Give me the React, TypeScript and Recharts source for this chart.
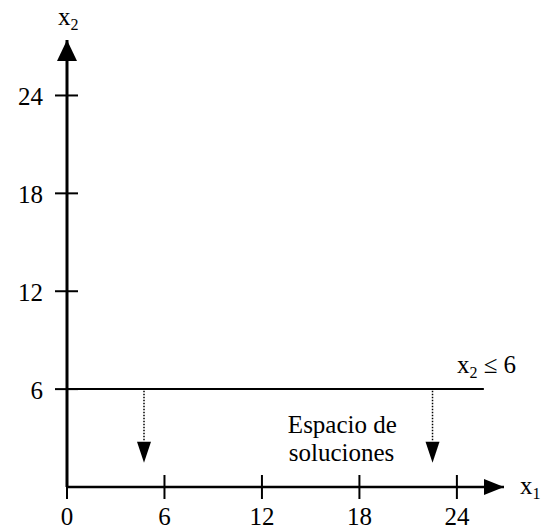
import {
  ComposedChart,
  XAxis,
  YAxis,
  Scatter,
  ReferenceLine,
  ReferenceDot,
} from "recharts";

// values
const xTicks = [0, 6, 12, 18, 24];
const yTicks = [6, 12, 18, 24];
const xMax = 26.9;
const yMax = 27.4;
const constraintValue = 6;
const constraintEnd = 25.66;
const arrowXs = [4.74, 22.5];
const arrowTipY = 1.48;
const arrowBaseY = 2.78;

const FONT = "Liberation Serif, Times New Roman, serif";
const INK = "#000";
const txt = { fontFamily: FONT, fontSize: 25 };

function XTick({ x, y, payload }: any) {
  return (
    <g>
      <line x1={x} x2={x} y1={y - 12} y2={y + 12} stroke={INK} strokeWidth={2} />
      <text x={x} y={y + 38} textAnchor="middle" style={txt} fill={INK}>
        {payload.value}
      </text>
    </g>
  );
}

function YTick({ x, y, payload }: any) {
  return (
    <g>
      <line x1={x - 12} x2={x + 11} y1={y} y2={y} stroke={INK} strokeWidth={2} />
      <text x={x - 24} y={y + 10} textAnchor="end" style={txt} fill={INK}>
        {payload.value}
      </text>
    </g>
  );
}

const rightHead = ({ cx, cy }: any) => (
  <polygon points={`${cx},${cy} ${cx - 20},${cy - 8} ${cx - 20},${cy + 8}`} fill={INK} />
);
const upHead = ({ cx, cy }: any) => (
  <polygon points={`${cx},${cy} ${cx - 10},${cy + 21} ${cx + 10},${cy + 21}`} fill={INK} />
);
const downHead = ({ cx, cy }: any) => (
  <polygon points={`${cx},${cy} ${cx - 7},${cy - 21} ${cx + 7},${cy - 21}`} fill={INK} />
);

function Sub({ base, sub, rest }: { base: string; sub: string; rest?: string }) {
  return ({ cx, cy }: any) => (
    <text x={cx} y={cy} textAnchor="start" style={txt} fill={INK}>
      {base}
      <tspan style={{ fontSize: 16 }} dy={5}>{sub}</tspan>
      {rest && <tspan dy={-5}>{rest}</tspan>}
    </text>
  );
}

const plainText = (s: string) => ({ cx, cy }: any) => (
  <text x={cx} y={cy} textAnchor="middle" style={txt} fill={INK}>
    {s}
  </text>
);

export default function App() {
  return (
    <div style={{ position: "fixed", left: 0, top: 0, background: "#fff" }}>
      <ComposedChart
        width={545}
        height={532}
        margin={{ top: 40, right: 41, bottom: 15, left: 7 }}
      >
        <XAxis
          type="number"
          dataKey="x"
          domain={[0, xMax]}
          ticks={xTicks}
          height={30}
          tickSize={0}
          tickMargin={0}
          tick={<XTick />}
          axisLine={{ stroke: INK, strokeWidth: 2.5 }}
          tickLine={false}
        />
        <YAxis
          type="number"
          dataKey="y"
          domain={[0, yMax]}
          ticks={yTicks}
          width={60}
          tickSize={0}
          tickMargin={0}
          tick={<YTick />}
          axisLine={{ stroke: INK, strokeWidth: 3 }}
          tickLine={false}
        />
        <ReferenceLine
          segment={[{ x: 0, y: constraintValue }, { x: constraintEnd, y: constraintValue }]}
          stroke={INK}
          strokeWidth={2}
        />
        {arrowXs.map((ax) => (
          <ReferenceLine
            key={ax}
            segment={[{ x: ax, y: constraintValue - 0.1 }, { x: ax, y: arrowBaseY }]}
            stroke={INK}
            strokeWidth={1.5}
            strokeDasharray="1.5 1.5"
          />
        ))}
        <Scatter
          data={arrowXs.map((ax) => ({ x: ax, y: arrowTipY }))}
          shape={downHead}
          isAnimationActive={false}
        />
        <Scatter data={[{ x: xMax, y: 0 }]} shape={rightHead} isAnimationActive={false} />
        <Scatter data={[{ x: 0, y: yMax }]} shape={upHead} isAnimationActive={false} />
        <ReferenceDot x={-0.55} y={28.3} r={0} ifOverflow="visible" shape={Sub({ base: "x", sub: "2" })} />
        <ReferenceDot x={27.88} y={-0.43} r={0} ifOverflow="visible" shape={Sub({ base: "x", sub: "1" })} />
        <ReferenceDot x={24.0} y={7.0} r={0} ifOverflow="visible" shape={Sub({ base: "x", sub: "2", rest: " ≤ 6" })} />
        <ReferenceDot x={16.95} y={3.33} r={0} ifOverflow="visible" shape={plainText("Espacio de")} />
        <ReferenceDot x={16.9} y={1.6} r={0} ifOverflow="visible" shape={plainText("soluciones")} />
      </ComposedChart>
    </div>
  );
}
